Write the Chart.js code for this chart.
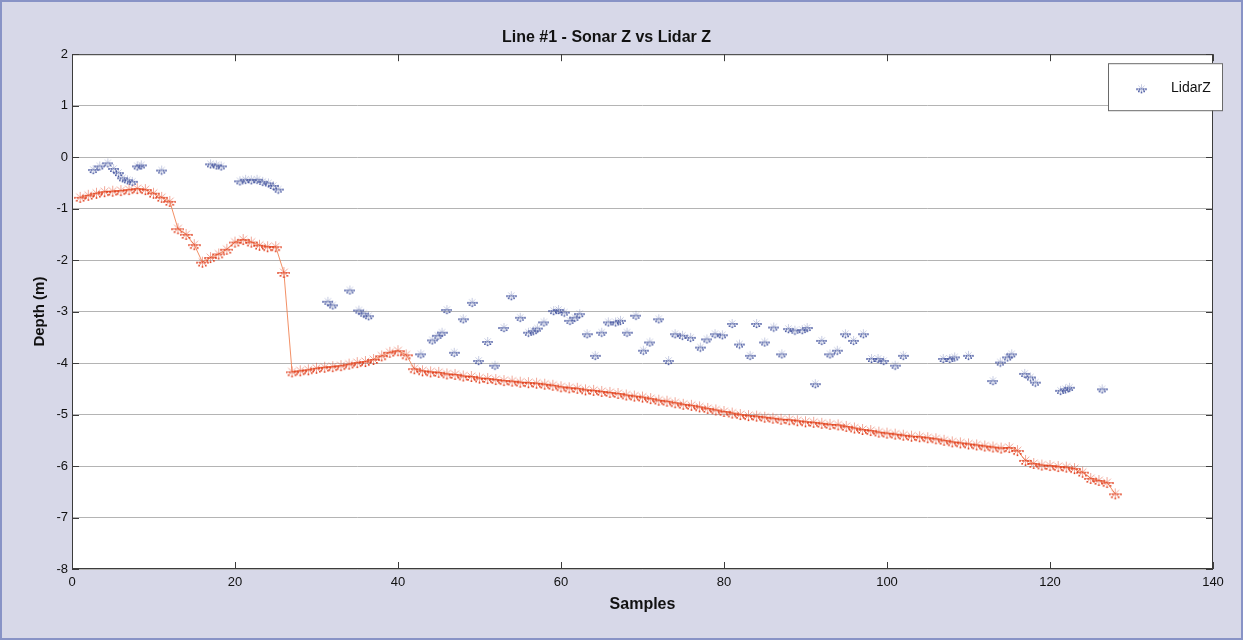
<!DOCTYPE html>
<html>
<head>
<meta charset="utf-8">
<title>Line #1 - Sonar Z vs Lidar Z</title>
<script src="https://cdn.jsdelivr.net/npm/chart.js@4.4.1/dist/chart.umd.min.js"></script>
<style>
  html, body { margin: 0; padding: 0; background: #d7d8e8; }
  #wrap { width: 1243px; height: 640px; }
</style>
</head>
<body>
<div id="wrap"><canvas id="depthChart" width="1243" height="640"></canvas></div>
<script>
// sonar depth, one reading per sample (samples 1..128)
const sonarDepth = [
  -0.78, -0.74, -0.70, -0.67, -0.66, -0.65, -0.63, -0.61, -0.63, -0.70,
  -0.78, -0.86, -1.39, -1.50, -1.70, -2.04, -1.95, -1.88, -1.79, -1.65,
  -1.60, -1.65, -1.71, -1.74, -1.74, -2.24, -4.17, -4.15, -4.13, -4.10,
  -4.08, -4.07, -4.05, -4.02, -3.99, -3.97, -3.93, -3.86, -3.79, -3.76,
  -3.84, -4.11, -4.15, -4.17, -4.18, -4.21, -4.22, -4.25, -4.26, -4.29,
  -4.30, -4.32, -4.34, -4.35, -4.37, -4.38, -4.39, -4.41, -4.43, -4.46,
  -4.48, -4.49, -4.52, -4.53, -4.55, -4.57, -4.59, -4.62, -4.64, -4.66,
  -4.69, -4.72, -4.74, -4.77, -4.80, -4.82, -4.85, -4.88, -4.91, -4.94,
  -4.97, -5.00, -5.02, -5.03, -5.05, -5.07, -5.09, -5.10, -5.12, -5.14,
  -5.15, -5.17, -5.19, -5.20, -5.23, -5.26, -5.29, -5.31, -5.34, -5.36,
  -5.38, -5.40, -5.42, -5.43, -5.45, -5.47, -5.50, -5.53, -5.55, -5.57,
  -5.59, -5.61, -5.63, -5.65, -5.64, -5.70, -5.89, -5.95, -5.98, -5.99,
  -6.01, -6.02, -6.05, -6.12, -6.24, -6.28, -6.32, -6.54
];
const sonarSamples = sonarDepth.map((_, i) => i + 1);

// lidar returns (sample position, depth)
const lidarSamples = [
  2.6, 3.4, 4.4, 5.1, 5.7, 6.2, 6.8, 7.4, 8.0, 8.5,
  11.0, 17.0, 17.7, 18.3, 20.6, 21.3, 22.0, 22.7, 23.4, 24.1,
  24.7, 25.3, 31.4, 32.0, 34.1, 35.2, 35.8, 36.4, 42.8, 44.2,
  44.9, 45.4, 46.0, 46.9, 48.0, 49.1, 49.9, 51.0, 51.9, 53.0,
  53.9, 55.0, 56.0, 56.6, 57.1, 57.9, 59.1, 59.7, 60.4, 61.1,
  61.7, 62.3, 63.2, 64.2, 65.0, 65.8, 66.7, 67.3, 68.1, 69.2,
  70.1, 70.9, 72.0, 73.2, 74.0, 74.9, 75.9, 77.1, 77.9, 78.9,
  79.8, 81.0, 81.9, 83.2, 84.0, 85.0, 86.1, 87.1, 87.9, 88.7,
  89.6, 90.2, 91.2, 92.0, 93.0, 93.9, 94.9, 95.9, 97.1, 98.1,
  98.9, 99.6, 101.0, 102.0, 106.9, 107.7, 108.3, 110.0, 113.0, 113.9,
  114.8, 115.3, 116.9, 117.6, 118.2, 121.3, 121.9, 122.4, 126.4
];
const lidarDepth = [
  -0.24, -0.17, -0.11, -0.22, -0.30, -0.40, -0.44, -0.47, -0.17, -0.15,
  -0.25, -0.13, -0.15, -0.17, -0.46, -0.43, -0.44, -0.43, -0.47, -0.50,
  -0.55, -0.62, -2.80, -2.87, -2.58, -2.97, -3.03, -3.08, -3.82, -3.55,
  -3.46, -3.40, -2.96, -3.79, -3.14, -2.82, -3.95, -3.58, -4.04, -3.31,
  -2.69, -3.11, -3.40, -3.37, -3.32, -3.20, -2.98, -2.96, -3.01, -3.17,
  -3.11, -3.04, -3.43, -3.85, -3.40, -3.20, -3.20, -3.17, -3.40, -3.07,
  -3.75, -3.59, -3.14, -3.95, -3.43, -3.46, -3.50, -3.69, -3.53, -3.43,
  -3.45, -3.23, -3.63, -3.85, -3.23, -3.59, -3.30, -3.82, -3.33, -3.36,
  -3.35, -3.31, -4.40, -3.56, -3.82, -3.75, -3.43, -3.56, -3.43, -3.91,
  -3.91, -3.95, -4.04, -3.85, -3.91, -3.91, -3.88, -3.85, -4.34, -3.98,
  -3.88, -3.82, -4.20, -4.27, -4.37, -4.53, -4.50, -4.47, -4.50
];

const xTicks = [0, 20, 40, 60, 80, 100, 120, 140];
const yTicks = [2, 1, 0, -1, -2, -3, -4, -5, -6, -7, -8];

const FONT = "'Liberation Sans', Arial, sans-serif";

// asterisk marker drawn with faint arms and a few heavy dots
function makeMarker(color, size, armAlpha) {
  const c = document.createElement('canvas');
  c.width = size;
  c.height = size;
  const g = c.getContext('2d');
  const m = size / 2, r = size / 2 - 1;
  g.strokeStyle = color;
  g.globalAlpha = armAlpha;
  g.lineWidth = 1;
  g.beginPath();
  g.moveTo(m, m - r); g.lineTo(m, m + r);
  g.moveTo(m - r, m); g.lineTo(m + r, m);
  g.moveTo(m - r * 0.7, m - r * 0.7); g.lineTo(m + r * 0.7, m + r * 0.7);
  g.moveTo(m + r * 0.7, m - r * 0.7); g.lineTo(m - r * 0.7, m + r * 0.7);
  g.stroke();
  g.globalAlpha = 1;
  g.fillStyle = color;
  const dots = [[-r, 0.5], [-r * 0.45, 0.5], [r * 0.45, 0.5], [r, 0.5],
                [-r * 0.6, r * 0.6], [r * 0.6, r * 0.6], [0, r * 0.85]];
  dots.forEach(([dx, dy]) => g.fillRect(m + dx - 0.8, m + dy - 0.8, 1.6, 1.6));
  return c;
}

const sonarMarker = makeMarker('#e03a18', 13, 0.45);
const lidarMarker = makeMarker('#4656a0', 11, 0.3);

// page background, white axes box and outer border
const backdrop = {
  id: 'backdrop',
  beforeDraw(chart) {
    const ctx = chart.ctx, a = chart.chartArea;
    ctx.save();
    ctx.fillStyle = '#d7d8e8';
    ctx.fillRect(0, 0, chart.width, chart.height);
    ctx.fillStyle = '#ffffff';
    ctx.fillRect(a.left, a.top, a.right - a.left, a.bottom - a.top);
    ctx.strokeStyle = '#8893c6';
    ctx.lineWidth = 2;
    ctx.strokeRect(1, 1, chart.width - 2, chart.height - 2);
    ctx.restore();
  }
};

// box outline plus the inward tick marks on all four sides
const axesBox = {
  id: 'axesBox',
  afterDatasetsDraw(chart) {
    const ctx = chart.ctx, a = chart.chartArea;
    const xs = chart.scales.x, ys = chart.scales.y;
    ctx.save();
    ctx.strokeStyle = '#3c3c3c';
    ctx.lineWidth = 1;
    ctx.strokeRect(a.left + 0.5, a.top + 0.5, a.right - a.left - 1, a.bottom - a.top - 1);
    ctx.beginPath();
    xTicks.forEach(v => {
      const px = Math.round(xs.getPixelForValue(v)) + 0.5;
      ctx.moveTo(px, a.top);
      ctx.lineTo(px, a.top + 7);
      ctx.moveTo(px, a.bottom);
      ctx.lineTo(px, a.bottom - 7);
    });
    yTicks.forEach(v => {
      const py = Math.round(ys.getPixelForValue(v)) + 0.5;
      ctx.moveTo(a.left, py);
      ctx.lineTo(a.left + 7, py);
      ctx.moveTo(a.right, py);
      ctx.lineTo(a.right - 7, py);
    });
    ctx.stroke();
    ctx.restore();
  }
};

// legend box in the upper right corner
const lidarLegend = {
  id: 'lidarLegend',
  afterDraw(chart) {
    const ctx = chart.ctx, a = chart.chartArea;
    const x0 = a.right - 105, y0 = a.top + 9, w = 114, h = 47;
    ctx.save();
    ctx.fillStyle = '#ffffff';
    ctx.fillRect(x0, y0, w, h);
    ctx.strokeStyle = '#6a6a6a';
    ctx.lineWidth = 1;
    ctx.strokeRect(x0 + 0.5, y0 + 0.5, w, h);
    ctx.drawImage(lidarMarker, x0 + 28, y0 + 20);
    ctx.fillStyle = '#111111';
    ctx.font = '14px ' + FONT;
    ctx.textBaseline = 'middle';
    ctx.fillText('LidarZ', x0 + 63, y0 + 25);
    ctx.restore();
  }
};

new Chart(document.getElementById('depthChart'), {
  type: 'line',
  data: {
    datasets: [
      {
        label: 'SonarZ',
        data: sonarSamples.map((s, i) => ({ x: s, y: sonarDepth[i] })),
        borderColor: 'rgba(240,125,75,0.85)',
        borderWidth: 1,
        pointStyle: sonarMarker,
        pointRadius: 6,
        tension: 0
      },
      {
        label: 'LidarZ',
        data: lidarSamples.map((s, i) => ({ x: s, y: lidarDepth[i] })),
        showLine: false,
        pointStyle: lidarMarker,
        pointRadius: 5
      }
    ]
  },
  options: {
    responsive: false,
    animation: false,
    layout: { padding: { left: 0, right: 30, top: 0, bottom: 0 } },
    plugins: {
      legend: { display: false },
      tooltip: { enabled: false },
      title: {
        display: true,
        text: 'Line #1 - Sonar Z vs Lidar Z',
        color: '#111111',
        font: { family: FONT, size: 16, weight: 'bold' },
        padding: { top: 28, bottom: 7 }
      }
    },
    scales: {
      x: {
        type: 'linear',
        min: 0,
        max: 140,
        afterBuildTicks: s => { s.ticks = xTicks.map(v => ({ value: v })); },
        afterFit: s => { s.height = 71; },
        grid: { display: false, drawTicks: false },
        border: { display: false },
        ticks: { color: '#111111', padding: 6, maxRotation: 0, font: { family: FONT, size: 13 } },
        title: {
          display: true,
          text: 'Samples',
          color: '#111111',
          font: { family: FONT, size: 16, weight: 'bold' },
          padding: { top: 0, bottom: 26 }
        }
      },
      y: {
        min: -8,
        max: 2,
        afterBuildTicks: s => { s.ticks = yTicks.map(v => ({ value: v })); },
        afterFit: s => { s.width = 72; },
        grid: { color: '#b4b4b4', lineWidth: 1, drawTicks: false },
        border: { display: false },
        ticks: { color: '#111111', padding: 4, font: { family: FONT, size: 13 } },
        title: {
          display: true,
          text: 'Depth (m)',
          color: '#111111',
          font: { family: FONT, size: 15, weight: 'bold' },
          padding: { top: 31, bottom: 0 }
        }
      }
    }
  },
  plugins: [backdrop, axesBox, lidarLegend]
});
</script>
</body>
</html>
